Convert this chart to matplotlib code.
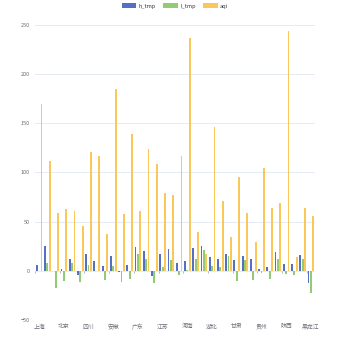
import matplotlib
matplotlib.use('Agg')
import matplotlib.pyplot as plt
from matplotlib.patches import Patch
import numpy as np

plt.rcParams['font.family'] = ['Noto Sans CJK SC', 'DejaVu Sans']

# categorias (orden unicode, solo se ve una de cada tres)
provincias = ['上海', '云南', '内蒙古', '北京', '台湾', '吉林', '四川', '天津', '宁夏', '安徽',
              '山东', '山西', '广东', '广西', '新疆', '江苏', '江西', '河北', '河南', '浙江',
              '海南', '湖北', '湖南', '澳门', '甘肃', '福建', '西藏', '贵州', '辽宁', '重庆',
              '陕西', '青海', '香港', '黑龙江']
h_tmp = [6, 25, 0, 2, 12, -4, 17, 10, 5, 15, -1, 6, 24, 20, -5, 17, 22, 8, 10, 23,
         25, 14, 12, 17, 11, 15, 12, 2, 4, 19, 7, 7, 16, -12]
l_tmp = [0, 8, -17, -10, 8, -11, 6, 0, -9, 5, -11, -8, 17, 12, -12, 4, 11, -4, 1, 12,
         21, 5, 4, 15, -10, 11, -9, -2, -8, 12, -3, -4, 12, -23]
aqi = [170, 112, 59, 63, 61, 46, 121, 117, 37, 185, 58, 139, 61, 124, 109, 79, 77, 117, 237, 40,
       17, 146, 71, 34, 95, 59, 29, 105, 64, 69, 244, 14, 64, 56]

series = [('h_tmp', h_tmp, '#5470c6'), ('l_tmp', l_tmp, '#91cc75'), ('aqi', aqi, '#fac858')]

fig = plt.figure(figsize=(3.5, 3.5), dpi=100)
ax = fig.add_axes([0.1, 0.0857, 0.8, 0.8429])

x = np.arange(len(provincias))
ancho = 0.8 / 3.6
for i, (nombre, valores, color) in enumerate(series):
    ax.bar(x + (i - 1) * ancho * 1.3, valores, width=ancho, color=color, zorder=3)

ax.set_xlim(-0.5, len(provincias) - 0.5)
ax.set_ylim(-50, 250)
ax.set_yticks([-50, 0, 50, 100, 150, 200, 250])
ax.grid(axis='y', color='#e0e6f1', linewidth=0.6, zorder=0)
ax.tick_params(axis='y', length=0, labelsize=4, labelcolor='#6e7079', pad=4)

ax.set_xticks(x[::3])
ax.set_xticklabels(provincias[::3])
ax.tick_params(axis='x', length=0, labelsize=4.2, labelcolor='#6e7079', pad=3)

# marcas del eje en cero
marcas = np.append(np.arange(-0.5, len(provincias), 3), len(provincias) - 0.5)
ax.vlines(marcas, -2.5, 0, color='#9a9ca3', linewidth=0.5, zorder=2)

for lado in ['top', 'right', 'left', 'bottom']:
    ax.spines[lado].set_visible(False)

handles = [Patch(facecolor=c, label=n) for n, v, c in series]
fig.legend(handles=handles, loc='upper center', bbox_to_anchor=(0.5, 1.005), ncol=3,
           frameon=False, fontsize=4, handlelength=2.6, handleheight=1.0,
           columnspacing=1.4, handletextpad=0.4, labelcolor='#333333')

plt.savefig('out.png', dpi=100)
plt.close()
